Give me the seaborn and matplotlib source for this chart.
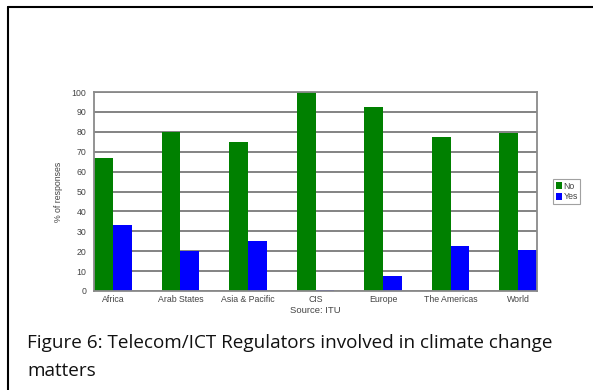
import pandas as pd
import matplotlib.pyplot as plt
import seaborn as sns
from matplotlib.lines import Line2D

# data
regions = ['Africa', 'Arab States', 'Asia & Pacific', 'CIS', 'Europe', 'The Americas', 'World']
no_vals = [66.7, 80, 75, 100, 92.3, 77.3, 79.5]
yes_vals = [33.3, 20, 25, 0.3, 7.7, 22.7, 20.5]

df = pd.DataFrame({'region': regions * 2,
                   'answer': ['No'] * 7 + ['Yes'] * 7,
                   'pct': no_vals + yes_vals})

sns.set_style('white')
plt.rcParams['font.family'] = ['Liberation Sans', 'DejaVu Sans']

fig = plt.figure(figsize=(5.93, 3.90), dpi=100)
ax = fig.add_axes([94 / 593, 1 - 291 / 390, 443 / 593, 199 / 390])

sns.barplot(data=df, x='region', y='pct', hue='answer', palette={'No': '#008000', 'Yes': '#0000ff'},
            width=0.56, ax=ax, saturation=1, linewidth=0)
ax.set_xlim(-0.28, 6.28)
ax.set_ylim(0, 100)
ax.set_yticks(range(0, 101, 10))
ax.yaxis.grid(True, color='#7a7a7a', lw=1.3)
ax.set_axisbelow(True)
for s in ax.spines.values():
    s.set_color('#8a8a8a')
    s.set_linewidth(1.3)
ax.tick_params(axis='both', labelsize=6.3, colors='#444444', length=2, width=0.8)
ax.tick_params(axis='x', length=0, pad=3)
ax.set_xlabel('Source: ITU', fontsize=6.8, color='#444444', labelpad=1)
ax.set_ylabel('% of responses', fontsize=6.3, color='#444444', labelpad=6)

leg = ax.legend(loc='center left', bbox_to_anchor=(1.036, 0.5), fontsize=6.3, frameon=True,
                handlelength=0.7, handleheight=0.8, handletextpad=0.2, borderpad=0.3,
                labelspacing=0.2, fancybox=False, borderaxespad=0)
leg.get_frame().set_edgecolor('#8a8a8a')
leg.get_frame().set_linewidth(0.8)
for t in leg.get_texts():
    t.set_color('#444444')

# document frame (left and top edges)
fig.add_artist(Line2D([8 / 593, 8 / 593], [0, 1 - 7 / 390], transform=fig.transFigure, color='black', lw=1.5))
fig.add_artist(Line2D([8 / 593, 1], [1 - 7 / 390, 1 - 7 / 390], transform=fig.transFigure, color='black', lw=1.5))

fig.text(27 / 593, 1 - 343 / 390, 'Figure 6: Telecom/ICT Regulators involved in climate change',
         fontsize=13.6, family=['Open Sans', 'DejaVu Sans'], va='center', color='#111111')
fig.text(27 / 593, 1 - 371 / 390, 'matters',
         fontsize=13.6, family=['Open Sans', 'DejaVu Sans'], va='center', color='#111111')

fig.savefig('out.png', dpi=100)
